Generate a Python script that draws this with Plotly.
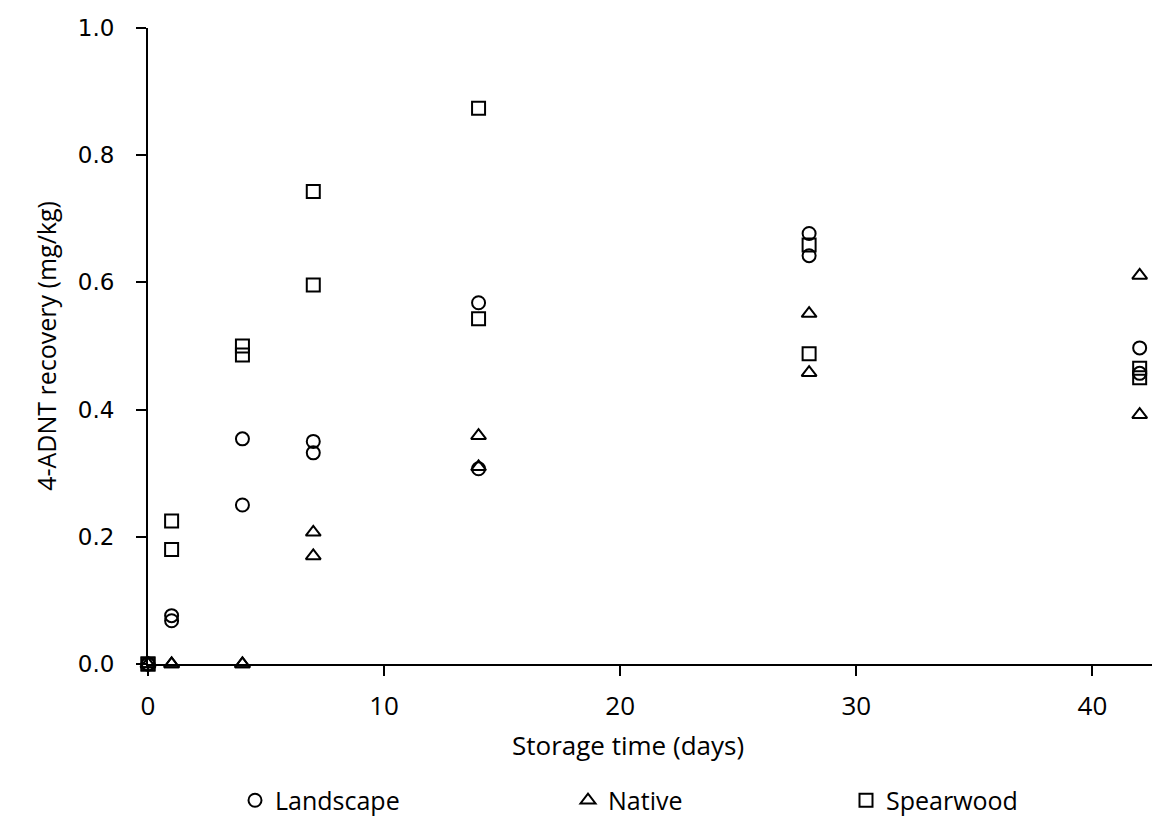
import plotly.graph_objects as go

days = [0, 0, 1, 1, 4, 4, 7, 7, 14, 14, 28, 28, 42, 42]
landscape = [0, 0, 0.076, 0.068, 0.354, 0.250, 0.350, 0.332, 0.568, 0.307, 0.677, 0.642, 0.497, 0.457]
native = [0, 0, 0, 0, 0, 0, 0.207, 0.170, 0.359, 0.310, 0.551, 0.458, 0.611, 0.392]
spearwood = [0, 0, 0.225, 0.180, 0.500, 0.486, 0.743, 0.596, 0.874, 0.543, 0.659, 0.488, 0.465, 0.450]

W, H = 1160, 816
L, R, T, B = 140, 0, 20, 153
pw, ph = W - L - R, H - T - B

def px_x(p):
    return (p - L) / pw

def px_y(p):
    return (H - B - p) / ph

TEXT_FONT = "Open Sans, Liberation Sans, sans-serif"

fig = go.Figure()
series = [
    ("Landscape", landscape, "circle-open", "legend", 227),
    ("Native", native, "triangle-up-open", "legend2", 560),
    ("Spearwood", spearwood, "square-open", "legend3", 838),
]
for name, vals, sym, leg, _ in series:
    fig.add_trace(go.Scatter(
        x=days, y=vals, mode="markers", name=name, legend=leg,
        cliponaxis=False,
        marker=dict(symbol=sym, size=13, color="black", line=dict(color="black", width=2)),
    ))

leg_common = dict(orientation="h", yanchor="middle", xanchor="left",
                  font=dict(family=TEXT_FONT, size=25, color="black"),
                  bgcolor="rgba(0,0,0,0)")
layout_legends = {}
for name, vals, sym, leg, xpx in series:
    layout_legends[leg] = dict(x=px_x(xpx), y=px_y(801), **leg_common)

fig.update_layout(
    width=W, height=H,
    margin=dict(l=L, r=R, t=T, b=B),
    plot_bgcolor="white", paper_bgcolor="white",
    showlegend=True,
    **layout_legends,
    xaxis=dict(
        range=[0, 43.2], tickmode="linear", tick0=0, dtick=10,
        showgrid=False, zeroline=False,
        showline=True, linecolor="black", linewidth=2,
        ticks="outside", ticklen=10, tickwidth=2, tickcolor="black",
        tickfont=dict(family=TEXT_FONT, size=26, color="black"),
        ticklabelstandoff=8,
    ),
    yaxis=dict(
        range=[0, 1.0], tickmode="linear", tick0=0, dtick=0.2,
        tickformat=".1f",
        showgrid=False, zeroline=False,
        showline=True, linecolor="black", linewidth=2,
        ticks="outside", ticklen=10, tickwidth=2, tickcolor="black",
        tickfont=dict(family="DejaVu Sans, Verdana, sans-serif", size=23, color="black"),
        ticklabelstandoff=17,
        title=dict(text="4-ADNT recovery (mg/kg)", font=dict(family=TEXT_FONT, size=25, color="black"), standoff=14),
    ),
    annotations=[
        dict(text="Storage time (days)", x=px_x(620), y=px_y(745), xref="paper", yref="paper",
             xanchor="center", yanchor="middle", showarrow=False,
             font=dict(family=TEXT_FONT, size=26, color="black")),
    ],
)

fig.write_html("out.html")
